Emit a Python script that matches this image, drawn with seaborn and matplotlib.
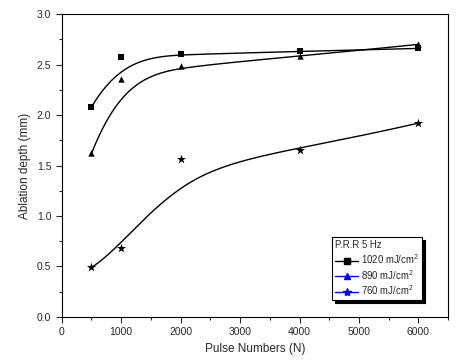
import numpy as np
import pandas as pd
import matplotlib
matplotlib.use("Agg")
import matplotlib.pyplot as plt
from matplotlib.lines import Line2D
from matplotlib.ticker import MultipleLocator
import seaborn as sns

# Data
pulses = [500, 1000, 2000, 4000, 6000]
depth_1020 = [2.08, 2.57, 2.60, 2.63, 2.66]
depth_890 = [1.62, 2.36, 2.49, 2.58, 2.70]
depth_760 = [0.49, 0.68, 1.56, 1.65, 1.92]
labels = ["1020 mJ/cm$^2$", "890 mJ/cm$^2$", "760 mJ/cm$^2$"]
markers = ["s", "^", "*"]
legend_colors = ["black", "blue", "blue"]


def bspline(xs, ys, n=200, k=3):
    # clamped cubic B-spline using the data points as control points
    pts = np.column_stack([xs, ys]).astype(float)
    m = len(pts)
    knots = np.concatenate([np.zeros(k), np.linspace(0, 1, m - k + 1), np.ones(k)])
    t = np.linspace(0, 1 - 1e-9, n)
    out = []
    for u in t:
        j = np.searchsorted(knots, u, side="right") - 1
        j = min(max(j, k), m - 1)
        d = [pts[j - k + i].copy() for i in range(k + 1)]
        for r in range(1, k + 1):
            for i in range(k, r - 1, -1):
                a = (u - knots[i + j - k]) / (knots[i + 1 + j - r] - knots[i + j - k])
                d[i] = (1 - a) * d[i - 1] + a * d[i]
        out.append(d[k])
    out.append(pts[-1])
    return np.array(out)


sns.set_style("ticks")
plt.rcParams['font.family'] = ['Liberation Sans', 'DejaVu Sans']
plt.rcParams['mathtext.default'] = 'regular'

fig = plt.figure(figsize=(4.61, 3.61), dpi=100)
ax = fig.add_axes([0.134, 0.122, 0.838, 0.839])

series = [depth_1020, depth_890, depth_760]
for ys, mk, lab in zip(series, markers, labels):
    curve = bspline(pulses, ys)
    cdf = pd.DataFrame({"x": curve[:, 0], "y": curve[:, 1]})
    sns.lineplot(data=cdf, x="x", y="y", ax=ax, color="black", lw=1.0,
                 sort=False, estimator=None)
    pdf = pd.DataFrame({"x": pulses, "y": ys})
    sns.scatterplot(data=pdf, x="x", y="y", ax=ax, marker=mk, color="black",
                    s=48 if mk == "*" else 21, edgecolor="black", linewidth=0, zorder=3)

ax.set_xlim(0, 6500)
ax.set_ylim(0, 3.0)
ax.xaxis.set_major_locator(MultipleLocator(1000))
ax.xaxis.set_minor_locator(MultipleLocator(500))
ax.yaxis.set_major_locator(MultipleLocator(0.5))
ax.yaxis.set_minor_locator(MultipleLocator(0.25))
ax.yaxis.set_major_formatter(plt.FormatStrFormatter("%.1f"))
ax.tick_params(which="major", direction="out", length=4, width=0.8, labelsize=7.5)
ax.tick_params(which="minor", direction="out", length=2, width=0.8)
for sp in ax.spines.values():
    sp.set_linewidth(0.8)
    sp.set_color("black")
ax.set_xlabel("Pulse Numbers (N)", fontsize=8.5)
ax.set_ylabel("Ablation depth (mm)", fontsize=8.5)

handles = [Line2D([0], [0], color=c, marker=mk, markerfacecolor=c, markeredgecolor=c,
                  markersize=6 if mk == "*" else 4.5, lw=1.0)
           for c, mk in zip(legend_colors, markers)]
leg = ax.legend(handles, labels, title="P.R.R 5 Hz", loc="lower left",
                bbox_to_anchor=(0.70, 0.055), fontsize=6.9, title_fontsize=6.9,
                frameon=True, fancybox=False, shadow={"color": "black", "alpha": 1},
                handlelength=2.4, handletextpad=0.3, borderpad=0.3,
                labelspacing=0.2, alignment="left", borderaxespad=0)
leg.get_frame().set_edgecolor("black")
leg.get_frame().set_linewidth(0.8)

fig.savefig("out.png", dpi=100)
